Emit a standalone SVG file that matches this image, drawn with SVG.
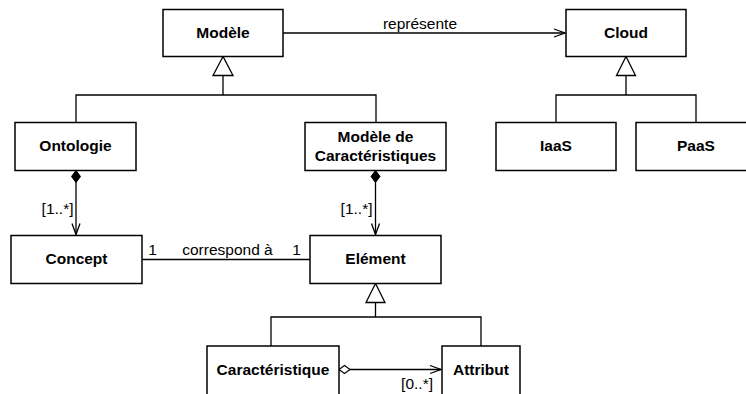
<svg xmlns="http://www.w3.org/2000/svg" width="746" height="394" viewBox="0 0 746 394">
<style>
.box{fill:#fff;stroke:#000;stroke-width:1.5}
.ln{fill:none;stroke:#000;stroke-width:1.3}
.tri{fill:#fff;stroke:#000;stroke-width:1.3}
.b{font-family:"Liberation Sans",Arial,Helvetica,sans-serif;font-weight:bold;font-size:15.5px;text-anchor:middle;fill:#000}
.r{font-family:"Liberation Sans",Arial,Helvetica,sans-serif;font-size:15.5px;fill:#000}
</style>
<defs>
<marker id="open" markerUnits="userSpaceOnUse" viewBox="-13 -6 15 12" refX="0" refY="0" markerWidth="15" markerHeight="12" orient="auto">
<path d="M-11,-4 L0,0 L-11,4" fill="none" stroke="#000" stroke-width="1.3"/>
</marker>
<marker id="dfill" markerUnits="userSpaceOnUse" viewBox="-1 -6 15 12" refX="0" refY="0" markerWidth="15" markerHeight="12" orient="auto">
<path d="M0,0 L6,-4.5 L12,0 L6,4.5 Z" fill="#000" stroke="#000" stroke-width="1"/>
</marker>
<marker id="dhollow" markerUnits="userSpaceOnUse" viewBox="-1 -6 15 12" refX="0" refY="0" markerWidth="15" markerHeight="12" orient="auto">
<path d="M0,0 L5.5,-4 L11,0 L5.5,4 Z" fill="#fff" stroke="#000" stroke-width="1.1"/>
</marker>
</defs>
<rect width="746" height="394" fill="#fff"/>
<g id="connectors">
<path class="ln" d="M283,33 H565" marker-end="url(#open)"/>
<text class="r" x="420" y="29" text-anchor="middle">représente</text>
<polygon class="tri" points="223,56.5 213,75.5 233,75.5"/>
<path class="ln" d="M223,75.5 V95 M76,122 V95 H376 V122"/>
<polygon class="tri" points="626,56.5 616.5,75.5 635.5,75.5"/>
<path class="ln" d="M626,75.5 V95 M556,122 V95 H696 V122"/>
<path class="ln" d="M76,170.5 V234.5" marker-start="url(#dfill)" marker-end="url(#open)"/>
<text class="r" x="73.5" y="214" text-anchor="end">[1..*]</text>
<path class="ln" d="M375.5,170.5 V234.5" marker-start="url(#dfill)" marker-end="url(#open)"/>
<text class="r" x="372.5" y="214" text-anchor="end">[1..*]</text>
<path class="ln" d="M142,259.5 H310"/>
<text class="r" x="152.5" y="255" text-anchor="middle">1</text>
<text class="r" x="227.5" y="255" text-anchor="middle">correspond à</text>
<text class="r" x="296.5" y="255" text-anchor="middle">1</text>
<polygon class="tri" points="375.5,283.5 366,302.5 385,302.5"/>
<path class="ln" d="M375.5,302.5 V317 M271,346 V317 H481 V346"/>
<path class="ln" d="M339,369.5 H441" marker-start="url(#dhollow)" marker-end="url(#open)"/>
<text class="r" x="433" y="389" text-anchor="end">[0..*]</text>
</g>
<g id="modele"><rect class="box" x="163" y="9.5" width="120" height="47"/><text class="b" x="223" y="38">Modèle</text></g>
<g id="cloud"><rect class="box" x="566" y="9.5" width="120" height="47"/><text class="b" x="626" y="38">Cloud</text></g>
<g id="ontologie"><rect class="box" x="15" y="122.5" width="121" height="48"/><text class="b" x="75.5" y="151">Ontologie</text></g>
<g id="modele-car"><rect class="box" x="305" y="122.5" width="141" height="48"/><text class="b" x="375.5" y="141.5">Modèle de</text><text class="b" x="375.5" y="160.5">Caractéristiques</text></g>
<g id="iaas"><rect class="box" x="496" y="122.5" width="120" height="48"/><text class="b" x="556" y="151">IaaS</text></g>
<g id="paas"><rect class="box" x="636" y="122.5" width="120" height="48"/><text class="b" x="696" y="151">PaaS</text></g>
<g id="concept"><rect class="box" x="11" y="235.5" width="131" height="48"/><text class="b" x="76.5" y="264">Concept</text></g>
<g id="element"><rect class="box" x="310" y="235.5" width="131" height="48"/><text class="b" x="375.5" y="264">Elément</text></g>
<g id="caracteristique"><rect class="box" x="207" y="346" width="132" height="60"/><text class="b" x="273" y="374.5">Caractéristique</text></g>
<g id="attribut"><rect class="box" x="442" y="346" width="78" height="60"/><text class="b" x="481" y="374.5">Attribut</text></g>
</svg>
